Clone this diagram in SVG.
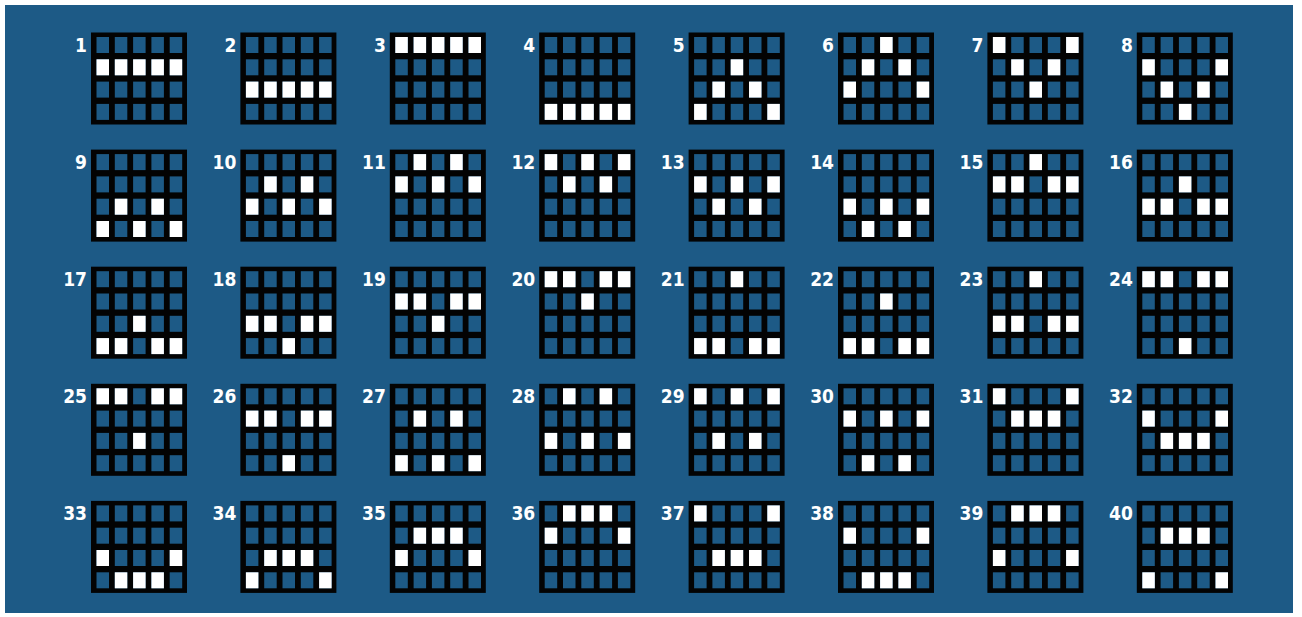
<svg xmlns="http://www.w3.org/2000/svg" xmlns:xlink="http://www.w3.org/1999/xlink" width="1302" height="617" viewBox="0 0 1302 617">
<style>
.c{fill:#1d5a86;width:12.5px;height:16px}
.w{fill:#ffffff;width:12.5px;height:16px}
.n{fill:#ffffff;font-family:'DejaVu Sans Condensed','DejaVu Sans','Liberation Sans Narrow','Liberation Sans',sans-serif;font-stretch:condensed;font-weight:bold;font-size:19px;text-anchor:end}
</style>
<defs>
<g id="grid">
<rect width="96" height="92" fill="#030303"/>
<rect class="c" x="5.5" y="4.5"/><rect class="c" x="23.8" y="4.5"/><rect class="c" x="42.1" y="4.5"/><rect class="c" x="60.4" y="4.5"/><rect class="c" x="78.7" y="4.5"/>
<rect class="c" x="5.5" y="26.8"/><rect class="c" x="23.8" y="26.8"/><rect class="c" x="42.1" y="26.8"/><rect class="c" x="60.4" y="26.8"/><rect class="c" x="78.7" y="26.8"/>
<rect class="c" x="5.5" y="49.1"/><rect class="c" x="23.8" y="49.1"/><rect class="c" x="42.1" y="49.1"/><rect class="c" x="60.4" y="49.1"/><rect class="c" x="78.7" y="49.1"/>
<rect class="c" x="5.5" y="71.4"/><rect class="c" x="23.8" y="71.4"/><rect class="c" x="42.1" y="71.4"/><rect class="c" x="60.4" y="71.4"/><rect class="c" x="78.7" y="71.4"/>
</g>
</defs>
<rect x="0" y="0" width="1302" height="617" fill="#ffffff"/>
<rect x="5" y="5" width="1288" height="608" fill="#1d5a86"/>
<g id="connectors"/>

<g id="line1" transform="translate(91,32.5)"><use href="#grid"/><text class="n" x="-4" y="19.5">1</text><rect class="w" x="5.5" y="26.8"/><rect class="w" x="23.8" y="26.8"/><rect class="w" x="42.1" y="26.8"/><rect class="w" x="60.4" y="26.8"/><rect class="w" x="78.7" y="26.8"/></g>
<g id="line2" transform="translate(240.4,32.5)"><use href="#grid"/><text class="n" x="-4" y="19.5">2</text><rect class="w" x="5.5" y="49.1"/><rect class="w" x="23.8" y="49.1"/><rect class="w" x="42.1" y="49.1"/><rect class="w" x="60.4" y="49.1"/><rect class="w" x="78.7" y="49.1"/></g>
<g id="line3" transform="translate(389.8,32.5)"><use href="#grid"/><text class="n" x="-4" y="19.5">3</text><rect class="w" x="5.5" y="4.5"/><rect class="w" x="23.8" y="4.5"/><rect class="w" x="42.1" y="4.5"/><rect class="w" x="60.4" y="4.5"/><rect class="w" x="78.7" y="4.5"/></g>
<g id="line4" transform="translate(539.2,32.5)"><use href="#grid"/><text class="n" x="-4" y="19.5">4</text><rect class="w" x="5.5" y="71.4"/><rect class="w" x="23.8" y="71.4"/><rect class="w" x="42.1" y="71.4"/><rect class="w" x="60.4" y="71.4"/><rect class="w" x="78.7" y="71.4"/></g>
<g id="line5" transform="translate(688.6,32.5)"><use href="#grid"/><text class="n" x="-4" y="19.5">5</text><rect class="w" x="5.5" y="71.4"/><rect class="w" x="23.8" y="49.1"/><rect class="w" x="42.1" y="26.8"/><rect class="w" x="60.4" y="49.1"/><rect class="w" x="78.7" y="71.4"/></g>
<g id="line6" transform="translate(838,32.5)"><use href="#grid"/><text class="n" x="-4" y="19.5">6</text><rect class="w" x="5.5" y="49.1"/><rect class="w" x="23.8" y="26.8"/><rect class="w" x="42.1" y="4.5"/><rect class="w" x="60.4" y="26.8"/><rect class="w" x="78.7" y="49.1"/></g>
<g id="line7" transform="translate(987.4,32.5)"><use href="#grid"/><text class="n" x="-4" y="19.5">7</text><rect class="w" x="5.5" y="4.5"/><rect class="w" x="23.8" y="26.8"/><rect class="w" x="42.1" y="49.1"/><rect class="w" x="60.4" y="26.8"/><rect class="w" x="78.7" y="4.5"/></g>
<g id="line8" transform="translate(1136.8,32.5)"><use href="#grid"/><text class="n" x="-4" y="19.5">8</text><rect class="w" x="5.5" y="26.8"/><rect class="w" x="23.8" y="49.1"/><rect class="w" x="42.1" y="71.4"/><rect class="w" x="60.4" y="49.1"/><rect class="w" x="78.7" y="26.8"/></g>

<g id="line9" transform="translate(91,149.6)"><use href="#grid"/><text class="n" x="-4" y="19.5">9</text><rect class="w" x="5.5" y="71.4"/><rect class="w" x="23.8" y="49.1"/><rect class="w" x="42.1" y="71.4"/><rect class="w" x="60.4" y="49.1"/><rect class="w" x="78.7" y="71.4"/></g>
<g id="line10" transform="translate(240.4,149.6)"><use href="#grid"/><text class="n" x="-4" y="19.5">10</text><rect class="w" x="5.5" y="49.1"/><rect class="w" x="23.8" y="26.8"/><rect class="w" x="42.1" y="49.1"/><rect class="w" x="60.4" y="26.8"/><rect class="w" x="78.7" y="49.1"/></g>
<g id="line11" transform="translate(389.8,149.6)"><use href="#grid"/><text class="n" x="-4" y="19.5">11</text><rect class="w" x="5.5" y="26.8"/><rect class="w" x="23.8" y="4.5"/><rect class="w" x="42.1" y="26.8"/><rect class="w" x="60.4" y="4.5"/><rect class="w" x="78.7" y="26.8"/></g>
<g id="line12" transform="translate(539.2,149.6)"><use href="#grid"/><text class="n" x="-4" y="19.5">12</text><rect class="w" x="5.5" y="4.5"/><rect class="w" x="23.8" y="26.8"/><rect class="w" x="42.1" y="4.5"/><rect class="w" x="60.4" y="26.8"/><rect class="w" x="78.7" y="4.5"/></g>
<g id="line13" transform="translate(688.6,149.6)"><use href="#grid"/><text class="n" x="-4" y="19.5">13</text><rect class="w" x="5.5" y="26.8"/><rect class="w" x="23.8" y="49.1"/><rect class="w" x="42.1" y="26.8"/><rect class="w" x="60.4" y="49.1"/><rect class="w" x="78.7" y="26.8"/></g>
<g id="line14" transform="translate(838,149.6)"><use href="#grid"/><text class="n" x="-4" y="19.5">14</text><rect class="w" x="5.5" y="49.1"/><rect class="w" x="23.8" y="71.4"/><rect class="w" x="42.1" y="49.1"/><rect class="w" x="60.4" y="71.4"/><rect class="w" x="78.7" y="49.1"/></g>
<g id="line15" transform="translate(987.4,149.6)"><use href="#grid"/><text class="n" x="-4" y="19.5">15</text><rect class="w" x="5.5" y="26.8"/><rect class="w" x="23.8" y="26.8"/><rect class="w" x="42.1" y="4.5"/><rect class="w" x="60.4" y="26.8"/><rect class="w" x="78.7" y="26.8"/></g>
<g id="line16" transform="translate(1136.8,149.6)"><use href="#grid"/><text class="n" x="-4" y="19.5">16</text><rect class="w" x="5.5" y="49.1"/><rect class="w" x="23.8" y="49.1"/><rect class="w" x="42.1" y="26.8"/><rect class="w" x="60.4" y="49.1"/><rect class="w" x="78.7" y="49.1"/></g>

<g id="line17" transform="translate(91,266.7)"><use href="#grid"/><text class="n" x="-4" y="19.5">17</text><rect class="w" x="5.5" y="71.4"/><rect class="w" x="23.8" y="71.4"/><rect class="w" x="42.1" y="49.1"/><rect class="w" x="60.4" y="71.4"/><rect class="w" x="78.7" y="71.4"/></g>
<g id="line18" transform="translate(240.4,266.7)"><use href="#grid"/><text class="n" x="-4" y="19.5">18</text><rect class="w" x="5.5" y="49.1"/><rect class="w" x="23.8" y="49.1"/><rect class="w" x="42.1" y="71.4"/><rect class="w" x="60.4" y="49.1"/><rect class="w" x="78.7" y="49.1"/></g>
<g id="line19" transform="translate(389.8,266.7)"><use href="#grid"/><text class="n" x="-4" y="19.5">19</text><rect class="w" x="5.5" y="26.8"/><rect class="w" x="23.8" y="26.8"/><rect class="w" x="42.1" y="49.1"/><rect class="w" x="60.4" y="26.8"/><rect class="w" x="78.7" y="26.8"/></g>
<g id="line20" transform="translate(539.2,266.7)"><use href="#grid"/><text class="n" x="-4" y="19.5">20</text><rect class="w" x="5.5" y="4.5"/><rect class="w" x="23.8" y="4.5"/><rect class="w" x="42.1" y="26.8"/><rect class="w" x="60.4" y="4.5"/><rect class="w" x="78.7" y="4.5"/></g>
<g id="line21" transform="translate(688.6,266.7)"><use href="#grid"/><text class="n" x="-4" y="19.5">21</text><rect class="w" x="5.5" y="71.4"/><rect class="w" x="23.8" y="71.4"/><rect class="w" x="42.1" y="4.5"/><rect class="w" x="60.4" y="71.4"/><rect class="w" x="78.7" y="71.4"/></g>
<g id="line22" transform="translate(838,266.7)"><use href="#grid"/><text class="n" x="-4" y="19.5">22</text><rect class="w" x="5.5" y="71.4"/><rect class="w" x="23.8" y="71.4"/><rect class="w" x="42.1" y="26.8"/><rect class="w" x="60.4" y="71.4"/><rect class="w" x="78.7" y="71.4"/></g>
<g id="line23" transform="translate(987.4,266.7)"><use href="#grid"/><text class="n" x="-4" y="19.5">23</text><rect class="w" x="5.5" y="49.1"/><rect class="w" x="23.8" y="49.1"/><rect class="w" x="42.1" y="4.5"/><rect class="w" x="60.4" y="49.1"/><rect class="w" x="78.7" y="49.1"/></g>
<g id="line24" transform="translate(1136.8,266.7)"><use href="#grid"/><text class="n" x="-4" y="19.5">24</text><rect class="w" x="5.5" y="4.5"/><rect class="w" x="23.8" y="4.5"/><rect class="w" x="42.1" y="71.4"/><rect class="w" x="60.4" y="4.5"/><rect class="w" x="78.7" y="4.5"/></g>

<g id="line25" transform="translate(91,383.8)"><use href="#grid"/><text class="n" x="-4" y="19.5">25</text><rect class="w" x="5.5" y="4.5"/><rect class="w" x="23.8" y="4.5"/><rect class="w" x="42.1" y="49.1"/><rect class="w" x="60.4" y="4.5"/><rect class="w" x="78.7" y="4.5"/></g>
<g id="line26" transform="translate(240.4,383.8)"><use href="#grid"/><text class="n" x="-4" y="19.5">26</text><rect class="w" x="5.5" y="26.8"/><rect class="w" x="23.8" y="26.8"/><rect class="w" x="42.1" y="71.4"/><rect class="w" x="60.4" y="26.8"/><rect class="w" x="78.7" y="26.8"/></g>
<g id="line27" transform="translate(389.8,383.8)"><use href="#grid"/><text class="n" x="-4" y="19.5">27</text><rect class="w" x="5.5" y="71.4"/><rect class="w" x="23.8" y="26.8"/><rect class="w" x="42.1" y="71.4"/><rect class="w" x="60.4" y="26.8"/><rect class="w" x="78.7" y="71.4"/></g>
<g id="line28" transform="translate(539.2,383.8)"><use href="#grid"/><text class="n" x="-4" y="19.5">28</text><rect class="w" x="5.5" y="49.1"/><rect class="w" x="23.8" y="4.5"/><rect class="w" x="42.1" y="49.1"/><rect class="w" x="60.4" y="4.5"/><rect class="w" x="78.7" y="49.1"/></g>
<g id="line29" transform="translate(688.6,383.8)"><use href="#grid"/><text class="n" x="-4" y="19.5">29</text><rect class="w" x="5.5" y="4.5"/><rect class="w" x="23.8" y="49.1"/><rect class="w" x="42.1" y="4.5"/><rect class="w" x="60.4" y="49.1"/><rect class="w" x="78.7" y="4.5"/></g>
<g id="line30" transform="translate(838,383.8)"><use href="#grid"/><text class="n" x="-4" y="19.5">30</text><rect class="w" x="5.5" y="26.8"/><rect class="w" x="23.8" y="71.4"/><rect class="w" x="42.1" y="26.8"/><rect class="w" x="60.4" y="71.4"/><rect class="w" x="78.7" y="26.8"/></g>
<g id="line31" transform="translate(987.4,383.8)"><use href="#grid"/><text class="n" x="-4" y="19.5">31</text><rect class="w" x="5.5" y="4.5"/><rect class="w" x="23.8" y="26.8"/><rect class="w" x="42.1" y="26.8"/><rect class="w" x="60.4" y="26.8"/><rect class="w" x="78.7" y="4.5"/></g>
<g id="line32" transform="translate(1136.8,383.8)"><use href="#grid"/><text class="n" x="-4" y="19.5">32</text><rect class="w" x="5.5" y="26.8"/><rect class="w" x="23.8" y="49.1"/><rect class="w" x="42.1" y="49.1"/><rect class="w" x="60.4" y="49.1"/><rect class="w" x="78.7" y="26.8"/></g>

<g id="line33" transform="translate(91,500.9)"><use href="#grid"/><text class="n" x="-4" y="19.5">33</text><rect class="w" x="5.5" y="49.1"/><rect class="w" x="23.8" y="71.4"/><rect class="w" x="42.1" y="71.4"/><rect class="w" x="60.4" y="71.4"/><rect class="w" x="78.7" y="49.1"/></g>
<g id="line34" transform="translate(240.4,500.9)"><use href="#grid"/><text class="n" x="-4" y="19.5">34</text><rect class="w" x="5.5" y="71.4"/><rect class="w" x="23.8" y="49.1"/><rect class="w" x="42.1" y="49.1"/><rect class="w" x="60.4" y="49.1"/><rect class="w" x="78.7" y="71.4"/></g>
<g id="line35" transform="translate(389.8,500.9)"><use href="#grid"/><text class="n" x="-4" y="19.5">35</text><rect class="w" x="5.5" y="49.1"/><rect class="w" x="23.8" y="26.8"/><rect class="w" x="42.1" y="26.8"/><rect class="w" x="60.4" y="26.8"/><rect class="w" x="78.7" y="49.1"/></g>
<g id="line36" transform="translate(539.2,500.9)"><use href="#grid"/><text class="n" x="-4" y="19.5">36</text><rect class="w" x="5.5" y="26.8"/><rect class="w" x="23.8" y="4.5"/><rect class="w" x="42.1" y="4.5"/><rect class="w" x="60.4" y="4.5"/><rect class="w" x="78.7" y="26.8"/></g>
<g id="line37" transform="translate(688.6,500.9)"><use href="#grid"/><text class="n" x="-4" y="19.5">37</text><rect class="w" x="5.5" y="4.5"/><rect class="w" x="23.8" y="49.1"/><rect class="w" x="42.1" y="49.1"/><rect class="w" x="60.4" y="49.1"/><rect class="w" x="78.7" y="4.5"/></g>
<g id="line38" transform="translate(838,500.9)"><use href="#grid"/><text class="n" x="-4" y="19.5">38</text><rect class="w" x="5.5" y="26.8"/><rect class="w" x="23.8" y="71.4"/><rect class="w" x="42.1" y="71.4"/><rect class="w" x="60.4" y="71.4"/><rect class="w" x="78.7" y="26.8"/></g>
<g id="line39" transform="translate(987.4,500.9)"><use href="#grid"/><text class="n" x="-4" y="19.5">39</text><rect class="w" x="5.5" y="49.1"/><rect class="w" x="23.8" y="4.5"/><rect class="w" x="42.1" y="4.5"/><rect class="w" x="60.4" y="4.5"/><rect class="w" x="78.7" y="49.1"/></g>
<g id="line40" transform="translate(1136.8,500.9)"><use href="#grid"/><text class="n" x="-4" y="19.5">40</text><rect class="w" x="5.5" y="71.4"/><rect class="w" x="23.8" y="26.8"/><rect class="w" x="42.1" y="26.8"/><rect class="w" x="60.4" y="26.8"/><rect class="w" x="78.7" y="71.4"/></g>
</svg>
